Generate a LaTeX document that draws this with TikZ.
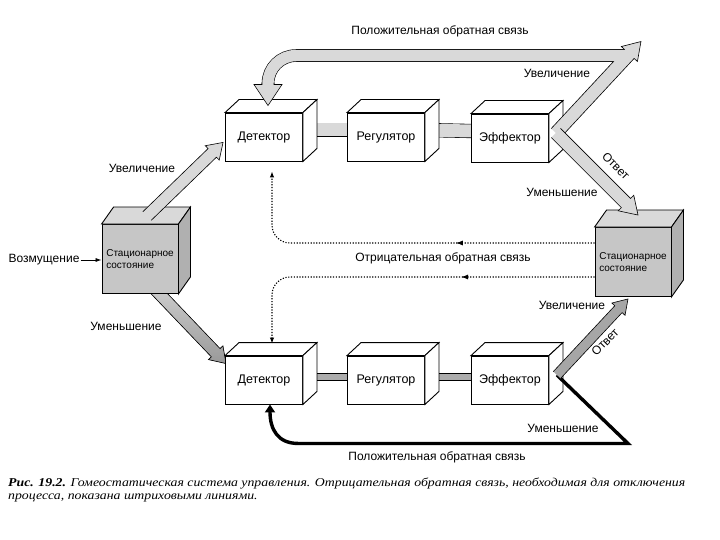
\documentclass[tikz,border=0pt]{standalone}
\usepackage{fontspec}
\setmainfont{Liberation Sans}
\newfontfamily\capfont{Liberation Serif}
\usetikzlibrary{calc,arrows.meta,decorations.markings,backgrounds}

\tikzset{
  procbox/.style={draw, line width=0.9pt, fill=white, minimum width=77pt, minimum height=48pt,
    inner sep=0pt, font=\fontsize{12.5}{14}\selectfont},
  statebox/.style={draw, line width=0.9pt, fill=gray!45, minimum width=76pt, minimum height=69pt,
    inner sep=0pt, align=left, font=\fontsize{10}{12.5}\selectfont},
  lbl/.style={inner sep=1pt, font=\fontsize{12}{14}\selectfont},
  lightbar/.style={draw=black, line width=0.6pt, double=gray!30, double distance=13pt},
  darkbar/.style={draw=black, line width=0.9pt, double=gray!65, double distance=6pt},
  band/.style={draw=black, line width=0.6pt, fill=gray!30},
  darkband/.style={draw=black, line width=0.6pt, fill=gray!70},
  darkgrad/.style={draw=black, line width=0.6pt, top color=gray!35, bottom color=gray!80},
  negfb/.style={line width=1.1pt, dash pattern=on 1.2pt off 1.6pt, -{Latex[length=6pt,width=4.5pt]},
    postaction={decorate}, decoration={markings,
      mark=at position 0.35 with {\arrow{Latex[length=7pt,width=5pt]}}}},
  posfb/.style={line width=3.4pt, -{Triangle[length=8pt,width=10pt]}},
}

% wide arrow: [style]{from}{to}{half shaft}{half head}{head length}
\newcommand{\fatarrow}[6][band]{%
  \coordinate (fa) at ($(#3)!#6!(#2)$);
  \filldraw[#1] ($(#2)!#4!90:(#3)$) -- ($(fa)!#4!90:(#3)$) -- ($(fa)!#5!90:(#3)$) -- (#3)
    -- ($(fa)!#5!-90:(#3)$) -- ($(fa)!#4!-90:(#3)$) -- ($(#2)!#4!-90:(#3)$);
}

\begin{document}
\begin{tikzpicture}[x=1pt, y=-1pt]
  \useasboundingbox (0,0) rectangle (720,540);

  % Control loops
  \node[procbox] (det1) at (264,137) {Детектор};
  \node[procbox] (reg1) at (386,137) {Регулятор};
  \node[procbox] (eff1) at (510,138) {Эффектор};
  \node[procbox] (det2) at (264,380) {Детектор};
  \node[procbox] (reg2) at (386,380) {Регулятор};
  \node[procbox] (eff2) at (510,380) {Эффектор};

  % Steady states
  \node[statebox] (st1) at (140,259) {Стационарное\\состояние};
  \node[statebox] (st2) at (633,262) {Стационарное\\состояние};

  \foreach \n in {det1,reg1,eff1,det2,reg2,eff2}{
    \draw[line width=0.9pt, fill=white] (\n.north west) -- ++(14,-13) -- ($(\n.north east)+(14,-13)$) -- (\n.north east) -- cycle;
    \draw[line width=0.9pt, fill=white] (\n.north east) -- ++(14,-13) -- ($(\n.south east)+(14,-13)$) -- (\n.south east) -- cycle;
  }
  \foreach \n in {st1,st2}{
    \draw[line width=0.9pt, fill=gray!30] (\n.north west) -- ++(12,-17) -- ($(\n.north east)+(12,-17)$) -- (\n.north east) -- cycle;
    \draw[line width=0.9pt, fill=gray!62] (\n.north east) -- ++(12,-17) -- ($(\n.south east)+(12,-17)$) -- (\n.south east) -- cycle;
  }

  % Links behind the boxes
  \begin{scope}[on background layer]
    \draw[lightbar] ([yshift=7pt]det1.east) -- ([yshift=7pt]reg1.west);
    \draw[lightbar] ([yshift=7pt]reg1.east) -- ([yshift=7pt]eff1.west);
    \draw[darkbar] ([yshift=3pt]det2.east) -- ([yshift=3pt]reg2.west);
    \draw[darkbar] ([yshift=3pt]reg2.east) -- ([yshift=3pt]eff2.west);
    \coordinate (decrA) at ($(st1.south)+(10,-10)$);
    \coordinate (decrB) at ($(det2.north west)+(1,8)$);
    \fatarrow[darkgrad]{decrA}{decrB}{6pt}{10pt}{15pt}
  \end{scope}

  % Disturbance
  \node[lbl] (dist) at (44,260) {Возмущение};
  \draw[line width=0.8pt, -{Latex[length=6pt,width=4pt]}] (dist.east) -- (dist.east -| st1.west);

  % Increase from the left steady state
  \coordinate (incrA) at ($(st1.north)+(7,-8)$);
  \coordinate (incrB) at ($(det1.south west)+(-2,-19)$);
  \fatarrow{incrA}{incrB}{6pt}{10pt}{15pt}

  % Upper loop: response and positive feedback
  \coordinate (effR1) at ($(eff1.east)+(7,-5)$);
  \coordinate (upTip) at ($(eff1.north east)+(92,-72)$);
  \coordinate (downTip) at ($(st2.north)+(5,-12)$);
  \coordinate (bandA) at ($(upTip)+(-13,14)$);
  \coordinate (bandB) at ($(det1.north)+(4,-27)$);
  \coordinate (headA) at ($(det1.north)+(4,-30)$);
  \coordinate (headB) at ($(det1.north)+(4,-7)$);
  \draw[line width=12.6pt, rounded corners=28pt] (bandA) -| (bandB);
  \fatarrow{effR1}{upTip}{6.5pt}{11pt}{17pt}
  \draw[gray!30, line width=11.4pt, rounded corners=28pt] (bandA) -| (bandB);
  \fatarrow{headA}{headB}{6pt}{14pt}{21pt}
  \fatarrow{effR1}{downTip}{6.5pt}{11pt}{17pt}

  % Lower loop: response and positive feedback
  \coordinate (effR2) at ($(eff2.east)+(8,-5)$);
  \coordinate (respTip) at ($(st2.south)+(-5,2)$);
  \coordinate (fbCorner) at ($(eff2.south east)+(79,39)$);
  \draw[posfb] (effR2) -- (fbCorner) -- ++(-330,0) .. controls +(-20,0) and +(0,25) .. ([xshift=6pt]det2.south);
  \fatarrow[darkband]{effR2}{respTip}{5pt}{9pt}{14pt}

  % Negative feedback (dotted)
  \draw[negfb, rounded corners=18pt, shorten >=10pt] ($(st2.west)+(0,-19)$) -| ([xshift=8pt]det1.south);
  \draw[negfb, rounded corners=18pt] ($(st2.west)+(0,15)$) -| ($(det2.north)+(8,-12)$);

  % Labels
  \node[lbl] (pos1) at (440,31) {Положительная обратная связь};
  \node[lbl] (incr1) at (142,168) {Увеличение};
  \node[lbl] (decr1) at (126,326) {Уменьшение};
  \node[lbl] (incr2) at (557,73) {Увеличение};
  \node[lbl] (decr2) at (562,192) {Уменьшение};
  \node[lbl, rotate=-45] (resp1) at (616,166) {Ответ};
  \node[lbl] (neg) at (443,258) {Отрицательная обратная связь};
  \node[lbl] (incr3) at (572,305) {Увеличение};
  \node[lbl, rotate=45] (resp2) at (605,342) {Ответ};
  \node[lbl] (decr3) at (563,428) {Уменьшение};
  \node[lbl] (pos2) at (437,457) {Положительная обратная связь};

  % Caption
  \node[anchor=north west, align=left, inner sep=0pt] (cap) at (8,478)
    {\scalebox{1.15}[1]{\capfont\itshape\fontsize{12}{12.5}\selectfont
      \begin{tabular}{@{}l@{}}
      \textbf{Рис. 19.2.} Гомеостатическая система управления. Отрицательная обратная связь, необходимая для отключения\\
      процесса, показана штриховыми линиями.
      \end{tabular}}};
\end{tikzpicture}
\end{document}
